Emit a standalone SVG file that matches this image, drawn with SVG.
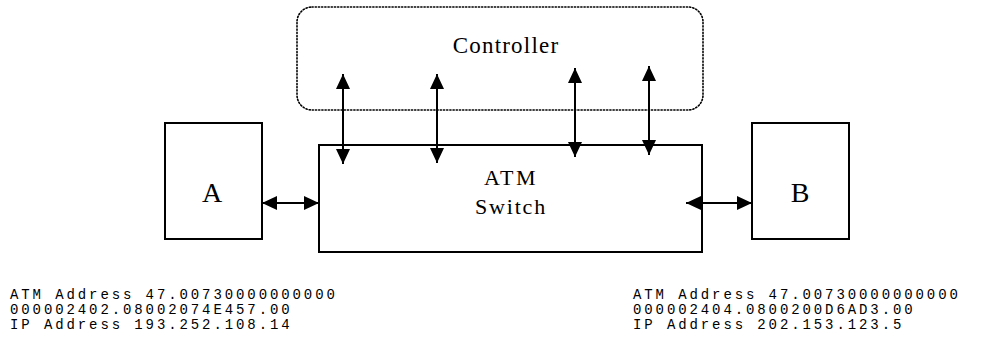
<svg xmlns="http://www.w3.org/2000/svg" width="982" height="346" viewBox="0 0 982 346">
<defs>
<style>
.box{fill:#fff;stroke:#000;stroke-width:2}
.ctrl{fill:none;stroke:#000;stroke-width:1.6;stroke-dasharray:1.2 2;stroke-linecap:round}
.lbl{font-family:"Liberation Serif","Times New Roman",serif;fill:#000;text-anchor:middle}
.mono{font-family:"Liberation Mono","Courier New",monospace;font-size:14px;letter-spacing:2.9px;fill:#000}
.conn line{stroke:#000;stroke-width:2;marker-start:url(#ah);marker-end:url(#ah)}
</style>
<marker id="ah" markerUnits="userSpaceOnUse" markerWidth="15" markerHeight="14" refX="15" refY="7" orient="auto-start-reverse" viewBox="0 0 15 14">
<path d="M0,0 L15,7 L0,14 z" fill="#000"/>
</marker>
</defs>
<g id="controller">
<rect class="ctrl" x="297" y="7" width="406" height="103" rx="15"/>
<text class="lbl" x="506" y="53" font-size="23" letter-spacing="1.2">Controller</text>
</g>
<g id="switch">
<rect class="box" x="319" y="145" width="383" height="107"/>
<text class="lbl" x="511" y="185" font-size="22" letter-spacing="2.5">ATM</text>
<text class="lbl" x="511" y="214" font-size="22" letter-spacing="1.8">Switch</text>
</g>
<g id="nodeA">
<rect class="box" x="165" y="123" width="97" height="116"/>
<text class="lbl" x="212" y="202" font-size="28">A</text>
</g>
<g id="nodeB">
<rect class="box" x="752" y="123" width="97" height="116"/>
<text class="lbl" x="800" y="202" font-size="28">B</text>
</g>
<g id="connectors" class="conn">
<line x1="343" y1="74" x2="343" y2="164"/>
<line x1="437" y1="74" x2="437" y2="163"/>
<line x1="575" y1="68" x2="575" y2="157"/>
<line x1="649" y1="66" x2="649" y2="155"/>
<line x1="262" y1="203" x2="319" y2="203"/>
<line x1="686" y1="203" x2="752" y2="203"/>
</g>
<g id="infoA" class="mono">
<text x="10" y="299">ATM Address 47.00730000000000</text>
<text x="10" y="314">000002402.08002074E457.00</text>
<text x="10" y="329">IP Address 193.252.108.14</text>
</g>
<g id="infoB" class="mono">
<text x="633" y="299">ATM Address 47.00730000000000</text>
<text x="633" y="314">000002404.0800200D6AD3.00</text>
<text x="633" y="329">IP Address 202.153.123.5</text>
</g>
</svg>
